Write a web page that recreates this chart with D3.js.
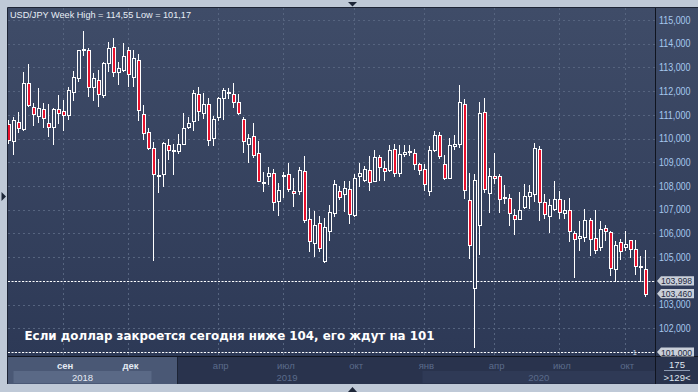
<!DOCTYPE html>
<html><head><meta charset="utf-8">
<script src="https://cdn.jsdelivr.net/npm/d3@7"></script>
<style>html,body{margin:0;padding:0;background:#bfc9d7;overflow:hidden}</style>
</head><body>
<svg id="c" width="698" height="392"></svg>
<script>
// ---------- DATA ----------
const opens  = [110.60,109.90,110.71,110.42,112.36,111.35,110.95,111.26,110.67,110.50,111.26,111.18,111.00,111.98,112.57,113.74,113.72,112.19,112.46,111.84,113.20,113.87,112.82,112.89,113.72,112.60,113.33,111.02,110.29,109.62,108.48,108.52,109.73,109.53,109.48,109.79,110.50,110.74,111.87,111.09,111.47,110.04,110.92,111.70,111.93,111.90,111.55,110.81,109.77,110.12,109.38,108.15,108.44,108.54,107.35,108.45,108.50,107.81,107.78,108.62,106.59,105.60,106.44,104.83,106.09,106.88,107.81,107.67,107.88,106.79,108.42,108.27,108.68,108.20,109.24,108.77,108.67,109.55,108.56,109.36,109.44,109.41,108.91,108.70,107.78,109.52,110.14,108.91,108.35,109.68,109.78,111.44,107.39,103.71,106.35,111.13,107.72,108.42,108.42,107.52,107.50,106.78,106.62,107.11,107.58,107.67,109.57,107.32,106.73,107.05,107.47,106.86,107.00,106.02,105.81,105.85,106.58,105.81,105.43,106.23,106.06,104.50,105.64,105.43,105.71,105.34,104.61,104.50];
const highs  = [110.80,110.92,111.13,112.82,113.16,111.51,112.15,111.51,111.44,111.30,111.82,111.61,112.17,112.85,113.75,114.55,113.80,112.78,112.88,113.24,114.08,114.25,113.23,114.04,113.86,113.72,113.55,111.40,110.46,109.87,109.13,109.87,110.00,109.76,110.18,111.09,110.91,112.06,112.17,111.91,111.70,110.94,111.75,112.15,112.15,112.36,111.87,110.92,110.19,110.64,109.89,108.58,108.79,108.72,108.12,108.61,108.96,108.33,108.79,109.27,107.07,106.96,106.72,106.65,107.21,108.26,108.02,108.20,108.20,108.49,108.95,108.84,109.26,109.50,109.29,109.05,109.73,109.79,109.73,109.73,109.72,109.55,108.98,108.91,109.69,110.33,110.28,109.29,110.03,110.13,112.24,111.67,108.56,108.49,111.54,111.72,108.74,109.40,108.52,108.04,107.65,107.01,107.76,108.10,108.03,109.82,109.68,107.65,107.44,108.20,107.78,107.43,107.50,106.09,106.51,107.05,106.65,106.98,106.54,106.37,106.12,105.70,105.78,106.12,105.74,105.74,105.06,105.32];
const lows   = [109.80,109.34,110.29,110.35,111.37,110.57,110.70,110.49,110.11,109.79,110.66,110.36,110.81,111.61,112.43,113.52,111.79,111.61,111.37,111.75,112.85,112.64,112.29,112.85,112.22,112.22,110.77,109.97,109.55,104.87,107.75,108.00,109.13,108.49,109.41,109.78,110.43,110.35,110.77,110.85,109.73,109.73,110.77,110.84,111.72,111.34,111.02,109.45,109.00,109.21,108.20,107.77,108.09,107.00,106.76,107.52,107.77,107.17,107.67,106.47,105.25,105.04,105.25,104.79,105.74,106.72,107.45,106.93,106.46,106.72,108.02,108.20,107.85,108.20,108.25,108.25,108.63,108.42,108.44,109.26,109.30,108.73,108.49,107.82,107.60,109.48,109.17,108.28,108.35,109.54,109.64,107.50,104.98,101.19,105.12,107.74,106.90,108.14,106.90,107.27,106.35,105.99,106.59,107.08,107.08,107.37,106.56,106.66,106.06,107.00,106.65,106.65,105.67,104.15,105.29,105.67,105.08,105.18,105.29,105.74,104.23,104.00,104.92,105.32,104.99,104.30,104.00,103.35];
const closes = [109.95,110.77,110.46,112.36,111.42,111.05,111.28,110.88,110.50,111.26,111.09,111.00,112.03,112.61,113.72,113.78,112.19,112.57,111.89,113.20,113.83,112.82,112.96,113.49,112.71,113.38,111.20,110.25,109.62,108.52,108.46,109.80,109.52,109.50,109.76,110.46,110.67,111.91,111.16,111.47,109.94,110.84,111.72,112.03,111.95,111.55,111.06,109.91,110.01,109.30,108.23,108.17,108.54,107.32,107.83,108.46,107.87,107.70,108.68,106.55,105.67,106.36,105.39,106.27,106.89,108.09,107.52,107.92,106.82,108.35,108.53,108.70,108.18,109.24,108.81,108.63,109.50,108.53,109.34,109.45,109.46,108.91,108.67,108.10,109.50,110.14,109.26,108.32,109.75,109.78,111.55,107.83,105.50,108.24,111.06,107.88,108.42,108.33,107.46,107.50,106.87,106.59,106.99,107.58,107.76,109.61,107.34,106.80,107.20,107.47,106.91,107.00,106.09,105.77,105.91,106.58,105.77,105.32,106.19,106.12,104.54,105.53,105.27,105.56,105.34,104.64,104.60,103.46];
const weeks = opens.map((_, i) => i);
const monthTickWeeks  = [11, 24, 42, 55, 69, 83, 97, 110, 123];
const monthTickLabels = ["сен","дек","апр","июл","окт","янв","апр","июл","окт"];
const yearLabels      = ["2018", "2019", "2020"];
const yearStartWeeks  = [1, 28.5, 82.5];
const priceTicks = [115,114,113,112,111,110,109,108,107,106,105,103,102];
const gridPrices = [115,114,113,112,111,110,109,108,107,106,105,104,103,102,101];
const levelLine = 103.998;
const supportLevel = 101;
const titleText = "USD/JPY Week High = 114,55 Low = 101,17";
const noteText = "Если доллар закроется сегодня ниже 104, его ждут на 101";
const barsTotal = "175", barsShown = ">129<";

// ---------- LAYOUT ----------
const W = 698, H = 392;
const P = {l: 8, t: 8, r: 655, b: 356};
const svg = d3.select("#c");
const defs = svg.append("defs");
const grad = defs.append("linearGradient").attr("id","bg").attr("gradientUnits","userSpaceOnUse")
  .attr("x1",0).attr("y1",P.t).attr("x2",0).attr("y2",P.b);
grad.append("stop").attr("offset","0").attr("stop-color","#3f4c68");
grad.append("stop").attr("offset","1").attr("stop-color","#2d3956");
defs.append("clipPath").attr("id","clip").append("rect")
  .attr("x",P.l).attr("y",P.t).attr("width",P.r-P.l).attr("height",P.b-P.t);

svg.append("rect").attr("width",W).attr("height",H).attr("fill","#bfc9d7");
svg.append("rect").attr("x",P.l).attr("y",P.t).attr("width",W-P.l).attr("height",P.b-P.t).attr("fill","url(#bg)");

const x = d3.scalePoint().domain(weeks).range([8.5, 645.7]);
const xl = d3.scaleLinear().domain([0, weeks.length-1]).range(x.range());
const y = d3.scaleLinear().domain([101, 115]).range([352, 20]);
const px = i => Math.round(x(i));
const py = v => Math.round(y(v));

const plot = svg.append("g").attr("clip-path","url(#clip)");
// grid
plot.append("g").selectAll("line").data(gridPrices).join("line")
  .attr("x1",P.l).attr("x2",P.r).attr("y1",d=>py(d)+0.5).attr("y2",d=>py(d)+0.5)
  .attr("stroke","#56647f").attr("stroke-dasharray","2,3");
plot.append("g").selectAll("line").data(monthTickWeeks).join("line")
  .attr("x1",d=>px(d)-0.5).attr("x2",d=>px(d)-0.5).attr("y1",P.t).attr("y2",P.b)
  .attr("stroke","#56647f").attr("stroke-dasharray","2,3");
// level lines
plot.append("g").selectAll("line").data([levelLine, supportLevel]).join("line")
  .attr("x1",P.l).attr("x2",P.r).attr("y1",d=>py(d)+0.5).attr("y2",d=>py(d)+0.5)
  .attr("stroke","#ffffff").attr("stroke-dasharray","2,1.5").attr("stroke-width",1);

// candles
const cg = plot.append("g").attr("shape-rendering","crispEdges");
cg.selectAll("line").data(weeks).join("line")
  .attr("x1",i=>px(i)-0.5).attr("x2",i=>px(i)-0.5)
  .attr("y1",i=>py(highs[i])).attr("y2",i=>py(lows[i])+1)
  .attr("stroke","#ffffff").attr("stroke-width",1);
cg.selectAll("rect").data(weeks).join("rect")
  .attr("x",i=>px(i)-1.5).attr("width",3)
  .attr("y",i=>py(Math.max(opens[i],closes[i]))+0.5)
  .attr("height",i=>Math.max(1, py(Math.min(opens[i],closes[i]))-py(Math.max(opens[i],closes[i]))))
  .attr("fill",i=>closes[i] < opens[i] ? "#e8112d" : "url(#bg)")
  .attr("stroke","#ffffff").attr("stroke-width",1);

// title & note
svg.append("text").attr("x",10).attr("y",17.5).text(titleText)
  .attr("font-family","Liberation Sans, Arial, sans-serif").attr("font-size",9.2)
  .attr("fill","#e8eef6").attr("textLength",181).attr("lengthAdjust","spacingAndGlyphs");
svg.append("text").attr("x",24.5).attr("y",340).text(noteText)
  .attr("font-family","DejaVu Sans, sans-serif").attr("font-size",13).attr("font-weight","bold")
  .attr("fill","#ffffff").attr("textLength",410).attr("lengthAdjust","spacingAndGlyphs");
svg.append("text").attr("x",637).attr("y",355).text("1").attr("text-anchor","end")
  .attr("font-family","Liberation Sans, Arial, sans-serif").attr("font-size",8).attr("fill","#c8d0dc");

// frame borders
svg.append("line").attr("x1",P.l-0.5).attr("x2",W).attr("y1",P.t-0.5).attr("y2",P.t-0.5).attr("stroke","#1d2435");
svg.append("line").attr("x1",P.l-0.5).attr("x2",P.l-0.5).attr("y1",P.t-0.5).attr("y2",384).attr("stroke","#1d2435");

// bottom axis panel
const by = P.b + 1;
svg.append("rect").attr("x",P.l).attr("y",by).attr("width",W-P.l).attr("height",384-by).attr("fill","#29334d");
svg.append("rect").attr("x",P.l).attr("y",by).attr("width",177-P.l).attr("height",384-by).attr("fill","#4a5875");
const yearEnds = yearStartWeeks.slice(1).map(w=>xl(w)).concat([P.r]);
const yb = svg.append("g");
yb.selectAll("rect").data(yearLabels).join("rect")
  .attr("x",(d,i)=>xl(yearStartWeeks[i])).attr("y",371)
  .attr("width",(d,i)=>yearEnds[i]-xl(yearStartWeeks[i])).attr("height",12)
  .attr("fill",(d,i)=> i===0 ? "#5a6986" : (i===2 ? "#2f3a56" : "none"));
yb.selectAll("text").data(yearLabels).join("text")
  .attr("x",(d,i)=>(xl(yearStartWeeks[i])+yearEnds[i])/2).attr("y",380.5)
  .attr("text-anchor","middle").text(d=>d)
  .attr("font-family","Liberation Sans, Arial, sans-serif").attr("font-size",9.5)
  .attr("fill",(d,i)=> i===0 ? "#e4eaf3" : "#5b6b8b");
svg.append("line").attr("x1",177.5).attr("x2",177.5).attr("y1",by).attr("y2",384).attr("stroke","#1d2435");
const xAxis = d3.axisBottom(xl).tickValues(monthTickWeeks).tickSize(0).tickPadding(0)
  .tickFormat((d,i)=>monthTickLabels[i]);
const xg = svg.append("g").attr("transform",`translate(0,${by})`).call(xAxis);
xg.select(".domain").remove();
xg.selectAll("text").attr("dy",0).attr("y",12).attr("x",1)
  .attr("font-family","Liberation Sans, Arial, sans-serif").attr("font-size",9.5)
  .attr("font-weight",d=> xl(d) < 177 ? "bold" : "normal")
  .attr("fill",d=> xl(d) < 177 ? "#e4eaf3" : "#5b6b8b");

// plot bottom & right borders
svg.append("line").attr("x1",P.l).attr("x2",W).attr("y1",P.b+0.5).attr("y2",P.b+0.5).attr("stroke","#10141f");
svg.append("line").attr("x1",P.r+0.5).attr("x2",P.r+0.5).attr("y1",P.t).attr("y2",384).attr("stroke","#10141f");

// right axis
const loc = d3.formatLocale({decimal:",", thousands:" ", grouping:[3], currency:["",""]});
const f3 = loc.format(".3f");
const yAxis = d3.axisRight(y).tickValues(priceTicks).tickSize(0).tickPadding(4).tickFormat(f3);
const yg = svg.append("g").attr("transform",`translate(${P.r},0)`).call(yAxis);
yg.select(".domain").remove();
yg.selectAll("text").attr("font-family","Liberation Sans, Arial, sans-serif").attr("font-size",10)
  .attr("fill","#a6c8ee").attr("textLength",31.5).attr("lengthAdjust","spacingAndGlyphs");

// price tags
const tagVals = [levelLine, closes[closes.length-1], supportLevel];
const tg = svg.append("g").selectAll("g").data(tagVals).join("g")
  .attr("transform",d=>`translate(0,${y(d)})`);
tg.append("path").attr("d","M657,0 L661,-4.6 L694,-4.6 L694,4.6 L661,4.6 Z").attr("fill","#c9cfd9");
tg.append("text").attr("x",661).attr("y",3.5).text(d=>f3(d))
  .attr("font-family","Liberation Sans, Arial, sans-serif").attr("font-size",9.8)
  .attr("fill","#1c2740").attr("textLength",31).attr("lengthAdjust","spacingAndGlyphs");

// bottom-right box
svg.append("line").attr("x1",664).attr("x2",690).attr("y1",370.5).attr("y2",370.5).attr("stroke","#8a98b0");
svg.append("text").attr("x",677).attr("y",368.3).attr("text-anchor","middle").text(barsTotal)
  .attr("font-family","Liberation Sans, Arial, sans-serif").attr("font-size",9.5).attr("fill","#dfe6f0");
svg.append("text").attr("x",677).attr("y",380.5).attr("text-anchor","middle").text(barsShown)
  .attr("font-family","Liberation Sans, Arial, sans-serif").attr("font-size",9.5).attr("fill","#dfe6f0");

// navigation triangles
svg.append("path").attr("d","M348,2 L357,2 L352.5,6.5 Z").attr("fill","#1d2638");
svg.append("path").attr("d","M1.5,192 L1.5,201 L6,196.5 Z").attr("fill","#1d2638");
svg.append("path").attr("d","M348,392 L357,392 L352.5,387 Z").attr("fill","#1d2638");
</script>
</body></html>
